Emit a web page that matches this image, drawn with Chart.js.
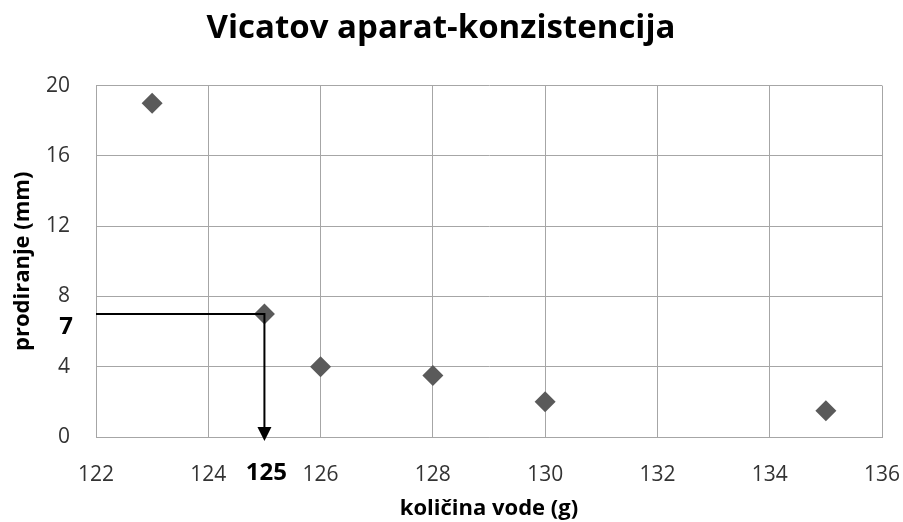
<!DOCTYPE html>
<html>
<head>
<meta charset="utf-8">
<script src="https://cdn.jsdelivr.net/npm/chart.js@4"></script>
<style>
  html, body { margin: 0; padding: 0; background: #fff; }
  #wrap { width: 903px; height: 522px; }
</style>
</head>
<body>
<div id="wrap"><canvas id="vicat"></canvas></div>
<script>
// kolicina vode (g) / prodiranje (mm)
var water = [123, 125, 126, 128, 130, 135];
var depth = [19, 7, 4, 3.5, 2, 1.5];
// reading of the consistency point
var markX = 125;
var markY = 7;

var font = "'Open Sans', 'DejaVu Sans', sans-serif";
var gridColor = '#a6a6a6';

// draws the 7 -> 125 reading lines with arrow and bold labels
var readingLines = {
    id: 'readingLines',
    afterDatasetsDraw(chart) {
        let ctx = chart.ctx;
        let xs = chart.scales.x, ys = chart.scales.y;
        let px = xs.getPixelForValue(markX);
        let py = ys.getPixelForValue(markY);
        let y0 = ys.getPixelForValue(0);
        let left = chart.chartArea.left;

        ctx.save();
        ctx.strokeStyle = '#000';
        ctx.lineWidth = 2;
        ctx.beginPath();
        ctx.moveTo(left, py);
        ctx.lineTo(px, py);
        ctx.lineTo(px, y0 - 10);
        ctx.stroke();

        ctx.fillStyle = '#000';
        ctx.beginPath();
        ctx.moveTo(px - 7, y0 - 10);
        ctx.lineTo(px + 7, y0 - 10);
        ctx.lineTo(px, y0 + 4);
        ctx.closePath();
        ctx.fill();

        ctx.font = 'bold 24px ' + font;
        ctx.textAlign = 'center';
        ctx.textBaseline = 'middle';
        ctx.fillText(String(markY), 66, py + 13);
        ctx.fillText(String(markX), px + 2, y0 + 36);
        ctx.restore();
    }
};

new Chart(document.getElementById('vicat'), {
    type: 'scatter',
    data: {
        datasets: [{
            data: water.map((w, i) => ({x: w, y: depth[i]})),
            pointStyle: 'rectRot',
            pointRadius: 10.5,
            pointHoverRadius: 10.5,
            backgroundColor: '#5a5a5a',
            borderColor: '#5a5a5a',
            borderWidth: 0
        }]
    },
    options: {
        responsive: true,
        maintainAspectRatio: false,
        animation: false,
        layout: { padding: { left: 0, right: 21, top: 0, bottom: 0 } },
        plugins: {
            legend: { display: false },
            tooltip: { enabled: false },
            title: {
                display: true,
                text: 'Vicatov aparat-konzistencija',
                color: '#000',
                font: { family: font, size: 33, weight: 'bold' },
                padding: { top: 9, bottom: 37 }
            }
        },
        scales: {
            x: {
                type: 'linear',
                min: 122,
                max: 136,
                afterFit(scale) {
                    scale.height = 85;
                    scale.paddingRight = 0;
                },
                ticks: {
                    stepSize: 2,
                    color: '#333',
                    padding: 25,
                    font: { family: font, size: 21 }
                },
                grid: { color: gridColor, drawTicks: false },
                border: { color: gridColor },
                title: {
                    display: true,
                    text: 'količina vode (g)',
                    color: '#000',
                    font: { family: font, size: 22, weight: 'bold' },
                    padding: { top: 0, bottom: 0 }
                }
            },
            y: {
                min: 0,
                max: 20,
                afterFit(scale) { scale.width = 96; },
                ticks: {
                    stepSize: 4,
                    color: '#333',
                    padding: 26,
                    font: { family: font, size: 21 }
                },
                grid: { color: gridColor, drawTicks: false },
                border: { color: gridColor },
                title: {
                    display: true,
                    text: 'prodiranje (mm)',
                    color: '#000',
                    font: { family: font, size: 22, weight: 'bold' },
                    padding: { top: 10, bottom: 0 }
                }
            }
        }
    },
    plugins: [readingLines]
});
</script>
</body>
</html>
